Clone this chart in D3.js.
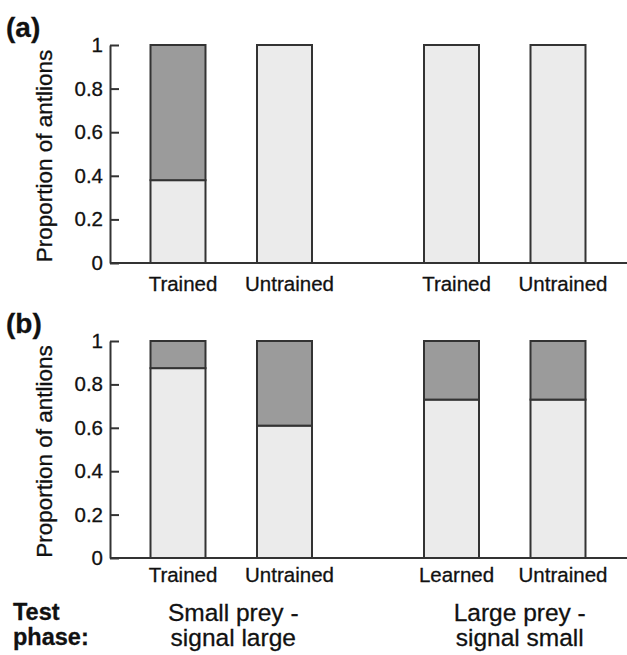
<html lang='en'>
<head>
    <meta content='text/html; charset=utf-8' http-equiv='Content-Type'>
    <title>Antlion proportions</title>
    <script src="https://cdnjs.cloudflare.com/ajax/libs/d3/7.8.5/d3.min.js"></script>
    <style>
        body { margin: 0; background: #fff; }
        text { font-family: "Liberation Sans", Arial, sans-serif; fill: #111; stroke: #111; stroke-width: 0.3px; }
        .axis path, .axis line { stroke: #333; stroke-width: 2px; fill: none; }
        .axis text { font-size: 20.5px; }
        .bar { stroke: #333; stroke-width: 2px; }
    </style>
</head>
<body>
<script>
// data
var groups = ["Small prey -|signal large", "Large prey -|signal small"];
var groupOf = [0, 0, 1, 1];
var labelsA = ["Trained", "Untrained", "Trained", "Untrained"];
var labelsB = ["Trained", "Untrained", "Learned", "Untrained"];
var lightA = [0.38, 1, 1, 1];
var darkA  = [0.62, 0, 0, 0];
var lightB = [0.875, 0.61, 0.73, 0.73];
var darkB  = [0.125, 0.39, 0.27, 0.27];
var yTicks = [0, 0.2, 0.4, 0.6, 0.8, 1];

var width = 627, height = 655;
var svg = d3.select("body").append("svg")
    .attr("width", width).attr("height", height);

// outer scale for the two test phases, inner for the two bars in each
var gx = d3.scaleBand().domain([0, 1]).range([94.5, 641.5]);
var ix = d3.scaleBand().domain([0, 1]).range([0, 213])
    .paddingInner(0.4836).paddingOuter(0.2418);
function barX(i) {
    var g = groupOf[i];
    return gx(g) + gx.bandwidth() / 2 - 106.5 + ix(i % 2);
}

var fills = {light: "#ebebeb", dark: "#9b9b9b"};

function panel(tag, top, bottom, light, dark, labels, labelDy) {
    var y = d3.scaleLinear().domain([0, 1]).range([bottom, top]);
    var rows = light.map(function(v, i) { return {i: i, light: v, dark: dark[i]}; });
    var series = d3.stack().keys(["light", "dark"])(rows);

    var g = svg.append("g");

    series.forEach(function(s) {
        g.selectAll(null)
            .data(s.filter(function(d) { return d[1] - d[0] > 0; }))
            .enter().append("rect")
            .attr("class", "bar")
            .attr("x", function(d) { return barX(d.data.i); })
            .attr("width", ix.bandwidth())
            .attr("y", function(d) { return y(d[1]); })
            .attr("height", function(d) { return y(d[0]) - y(d[1]); })
            .attr("fill", fills[s.key]);
    });

    // baseline
    g.append("line")
        .attr("x1", 110).attr("x2", width)
        .attr("y1", y(0)).attr("y2", y(0))
        .attr("stroke", "#333").attr("stroke-width", 2);

    g.append("g")
        .attr("class", "axis")
        .attr("transform", "translate(110,0)")
        .call(d3.axisLeft(y).tickValues(yTicks)
            .tickFormat(function(d) { return String(d); })
            .tickSizeInner(-9).tickSizeOuter(0).tickPadding(7));

    g.append("text")
        .attr("transform", "translate(52," + ((top + bottom) / 2 + 2) + ") rotate(-90)")
        .attr("text-anchor", "middle")
        .style("font-size", "22.5px")
        .text("Proportion of antlions");

    g.selectAll(null)
        .data(labels)
        .enter().append("text")
        .attr("x", function(d, i) { return barX(i) + ix.bandwidth() / 2 + 5; })
        .attr("y", y(0) + labelDy)
        .attr("text-anchor", "middle")
        .style("font-size", "20.5px")
        .text(function(d) { return d; });

    svg.append("text")
        .attr("x", 6).attr("y", top - 8)
        .style("font-size", "28px").style("font-weight", "bold")
        .text(tag);
}

panel("(a)", 45, 263, lightA, darkA, labelsA, 28);
panel("(b)", 341, 558, lightB, darkB, labelsB, 24);

// test phase labels
var tp = svg.append("text").style("font-size", "23.5px").style("font-weight", "bold");
tp.append("tspan").attr("x", 13).attr("y", 620).text("Test");
tp.append("tspan").attr("x", 13).attr("y", 645).text("phase:");

var shift = [2, 15];
groups.forEach(function(name, g) {
    var t = svg.append("text")
        .attr("text-anchor", "middle")
        .style("font-size", "24.5px");
    name.split("|").forEach(function(line, k) {
        t.append("tspan")
            .attr("x", gx(g) + gx.bandwidth() / 2 + shift[g])
            .attr("y", 621 + k * 25)
            .text(line);
    });
});
</script>
</body>
</html>
